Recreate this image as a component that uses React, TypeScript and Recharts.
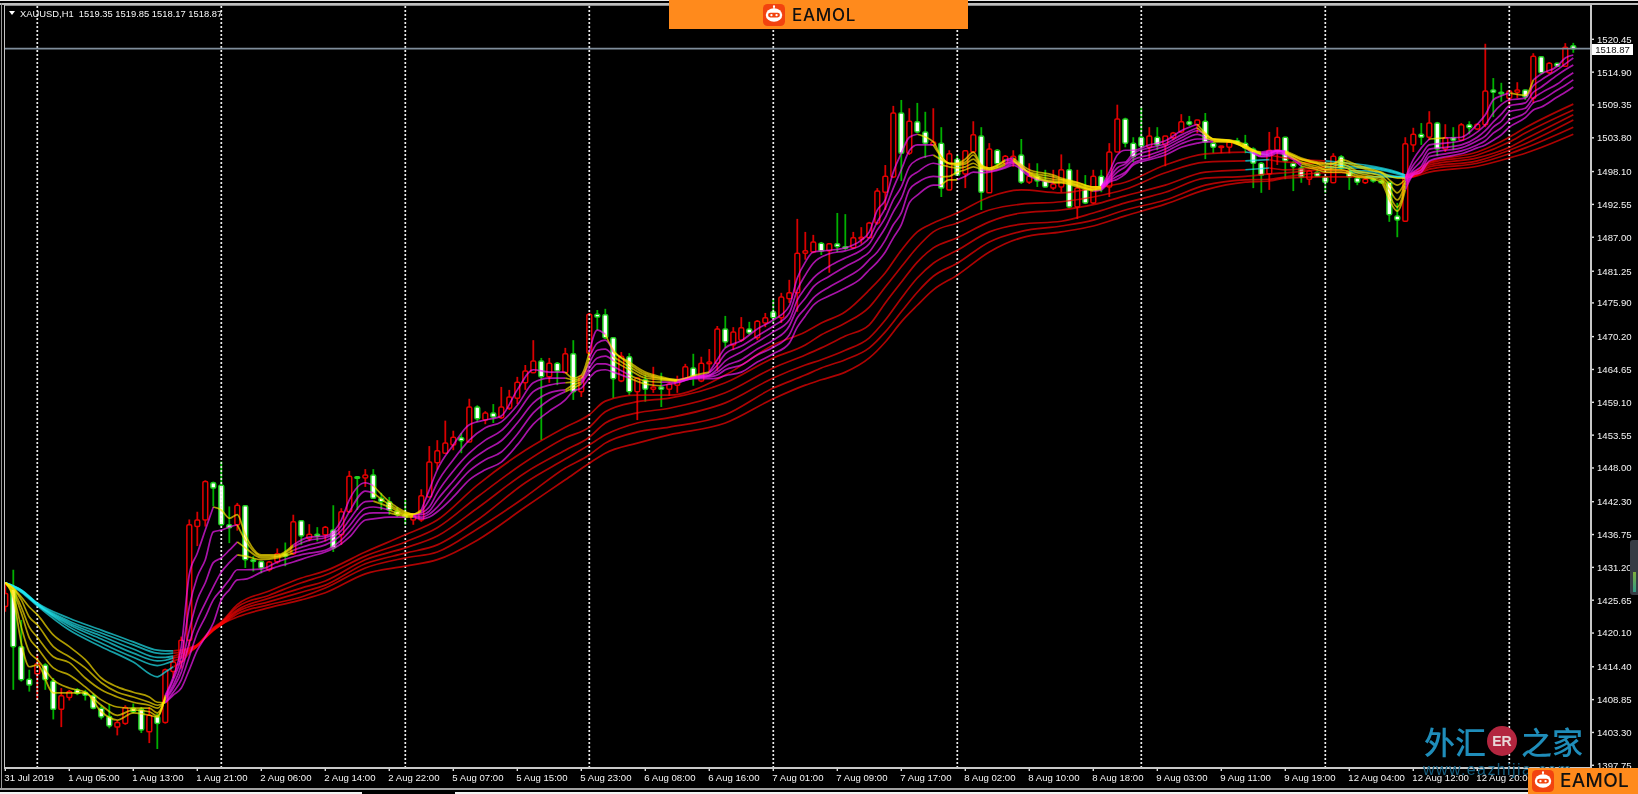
import React from "react";
import { ComposedChart, Bar, Line, XAxis, YAxis, ReferenceLine } from "recharts";

const symbolTitle = "XAUUSD,H1  1519.35 1519.85 1518.17 1518.87";
const lastPrice = 1518.87;
const priceTicks = [1520.45,1514.9,1509.35,1503.8,1498.1,1492.55,1487,1481.25,1475.9,1470.2,1464.65,1459.1,1453.55,1448,1442.3,1436.75,1431.2,1425.65,1420.1,1414.4,1408.85,1403.3,1397.75];
const timeLabels = ["31 Jul 2019","1 Aug 05:00","1 Aug 13:00","1 Aug 21:00","2 Aug 06:00","2 Aug 14:00","2 Aug 22:00","5 Aug 07:00","5 Aug 15:00","5 Aug 23:00","6 Aug 08:00","6 Aug 16:00","7 Aug 01:00","7 Aug 09:00","7 Aug 17:00","8 Aug 02:00","8 Aug 10:00","8 Aug 18:00","9 Aug 03:00","9 Aug 11:00","9 Aug 19:00","12 Aug 04:00","12 Aug 12:00","12 Aug 20:00"];
const timeTickBars = [0,8,16,24,32,40,48,56,64,72,80,88,96,104,112,120,128,136,144,152,160,168,176,184];
const daySeparatorBars = [4,27,50,73,96,119,142,165,188];

const opens = [1424.6,1427.5,1417.8,1412.3,1413.2,1414.7,1412,1407.2,1409.2,1410.5,
1410.1,1409.5,1407.4,1406,1404.2,1404.8,1407.4,1407.2,1403.4,1406,
1405,1413.6,1415.3,1418.9,1438.1,1439.2,1445.5,1445.1,1438.4,1438.4,
1441.6,1432.5,1432.2,1430.8,1432.1,1433.5,1433.5,1439.1,1436.1,1436.8,
1436.7,1437.5,1436.7,1440.6,1446.5,1446.3,1446.8,1442.9,1442.3,1440.7,
1440.1,1439.2,1439.2,1443.1,1448.9,1450.5,1451.9,1453.1,1452.4,1458.3,
1456.1,1457.3,1456.5,1458.1,1459.8,1462.4,1464.1,1466.1,1463.4,1465.7,
1464.1,1467.3,1460.9,1467.4,1474,1473.9,1470,1462.7,1466.8,1460.9,
1462.9,1461.3,1461.7,1461.3,1462,1463.1,1464.9,1462.7,1465.6,1465.7,
1471.5,1468.8,1469.6,1471.5,1470,1472.5,1474.4,1473.4,1476.6,1477.6,
1484.3,1484.5,1486,1484.7,1485.9,1485.4,1485.2,1486.7,1486.9,1489.4,
1494.6,1497.2,1508,1501.2,1506.5,1504.8,1502.6,1502.9,1495,1500.2,
1497.7,1501.4,1504.1,1494.5,1501.7,1499.5,1500.1,1500.9,1496.3,1497.3,
1496.5,1495.3,1495.5,1498.4,1492.1,1495.1,1492.8,1497.3,1495.5,1501.4,
1507,1502.9,1503.9,1502.2,1503.9,1502.6,1503.8,1504.8,1506.5,1506,
1506.6,1502.9,1502.2,1502.2,1503.3,1502.9,1501.9,1499.5,1497.7,1501.7,
1503.9,1499.5,1498.7,1496.8,1498,1497.2,1496.2,1500.6,1498.2,1497,
1496.2,1496.8,1496.5,1496.3,1490.6,1489.7,1502.6,1504.4,1503.9,1506.3,
1501.9,1503.8,1503.4,1506,1505.3,1506,1511.9,1511.5,1510.5,1511.5,
1511.9,1510.5,1517.5,1514.8,1516.4,1515.9,1519.35];
const highs = [1428.5,1430.8,1422.3,1413.9,1416.6,1415,1412.5,1410.8,1410.5,1410.8,
1410.5,1409.9,1407.9,1408.1,1405.4,1407.9,1408.2,1407.6,1407.6,1406.5,
1414.1,1416.1,1419.5,1439.3,1440.6,1445.9,1445.7,1449.1,1441.5,1442.1,
1441.7,1433.1,1432.3,1432.3,1434.4,1435.4,1440.1,1439.2,1438.5,1438,
1438.2,1441.7,1441.2,1447.5,1446.6,1447.8,1447.8,1443.8,1443.1,1441.4,
1442.6,1440.1,1444.4,1451.7,1452.7,1456,1454.3,1453.9,1459.7,1458.6,
1457.6,1458.8,1461.7,1461.2,1463.4,1465.4,1469.6,1466.6,1466.6,1465.9,
1468.3,1469.6,1463.7,1474.2,1474.7,1474.9,1470.1,1467.6,1467.4,1463.2,
1463.7,1465.1,1464.1,1462.5,1463.6,1465.6,1467.3,1466.8,1468.1,1472,
1473.7,1471.8,1473.5,1472.7,1473,1474.2,1476.6,1477.6,1479.8,1490.1,
1487.9,1487.4,1486.2,1485.9,1491.1,1490.9,1487.9,1488.7,1489.6,1495.3,
1499.2,1509.2,1510.2,1508.8,1509.7,1508.2,1508.8,1505.6,1501.7,1500.9,
1501.7,1506.6,1505.6,1502.9,1501.9,1500.9,1501.7,1503.6,1499.5,1499.5,
1498.4,1498.4,1501,1499.5,1498.4,1497.5,1498.4,1498.4,1502.9,1509.4,
1507.2,1503.9,1509,1505.6,1505.6,1504.1,1504.8,1507.8,1507.5,1506.8,
1508,1503.1,1502.4,1503.1,1503.8,1504.3,1502.2,1499.7,1504.8,1505.6,
1503.9,1499.9,1499.2,1498.4,1498.5,1497.2,1501.2,1500.9,1498.7,1497.2,
1497,1497,1496.7,1496.3,1492.8,1503.9,1505.5,1506.3,1508.3,1506.5,
1506.1,1505.6,1506.3,1506.6,1506.1,1519.7,1513.9,1513.1,1511.9,1513.2,
1511.9,1518.1,1517.6,1516.6,1516.4,1519.8,1519.85];
const lows = [1423.7,1410.5,1411.9,1410.2,1408.8,1410.5,1405.5,1404.2,1408.7,1409.6,
1408.7,1407.2,1405.5,1404,1402.8,1404.6,1406.5,1403.2,1401.5,1400.5,
1404.8,1412.5,1414.1,1417.8,1434.8,1438.1,1441.5,1438.1,1435.3,1437.4,
1431.1,1430.5,1430.2,1430.5,1431.8,1431.4,1433.3,1435,1435.6,1435.6,
1435.6,1433.8,1435,1440.4,1440.9,1444.8,1442.9,1440.9,1440.1,1439.7,
1438.4,1438.4,1438.9,1443.1,1447.7,1450.5,1451,1450.5,1452.4,1455.8,
1455.4,1455.6,1456.3,1457.8,1458.8,1461.2,1464.1,1452.7,1462.4,1462,
1464.1,1459.5,1460,1466.3,1471.3,1469.8,1459.8,1462.5,1460.3,1456.1,
1459.2,1460.7,1458.3,1460.2,1460.7,1462.9,1461.9,1462.5,1464.2,1464.4,
1468.3,1467.9,1469.3,1470.5,1469.6,1471.8,1472.7,1472.5,1475.9,1474.4,
1483.2,1484.3,1484,1481,1484.5,1484.8,1485,1485.9,1486.9,1489.1,
1491.6,1497,1496.5,1500.9,1504.6,1500.4,1502.6,1493.8,1495,1497.5,
1495.3,1501.2,1491.6,1494.5,1498.7,1499.2,1498.9,1496,1496,1495.5,
1495.5,1495,1494.6,1491.9,1490.1,1492.6,1492.6,1494.6,1493.8,1501.4,
1502.2,1499.7,1501.2,1500.4,1501.7,1499,1503.4,1504.6,1505.8,1504.6,
1500.2,1501.2,1501.2,1501.2,1502.6,1501.2,1495.3,1494.5,1495,1499.2,
1496.8,1494.8,1496.2,1495.8,1497.2,1494.5,1496.2,1498.4,1495,1495.8,
1496,1496.2,1496,1489.6,1487,1489.7,1501.4,1502.6,1503.4,1500.7,
1501.4,1501.7,1503.4,1504.4,1505.1,1505.6,1507.3,1509.9,1509.4,1510.5,
1510.2,1509.7,1514.6,1514.6,1515.8,1515.8,1518.17];
const closes = [1426.8,1417.8,1412.2,1411.3,1414.9,1412.2,1407.2,1409.5,1410.2,1409.9,
1409.6,1407.4,1405.9,1404.4,1405,1407.5,1406.8,1403.7,1406.2,1404.8,
1413.9,1415.2,1418.9,1438.4,1439.2,1445.7,1444.6,1438.4,1437.9,1441.7,
1432.5,1432.2,1431.1,1432.1,1433.5,1433.1,1438.9,1436.5,1436.8,1436.5,
1438,1434.5,1440.6,1446.6,1446.3,1446.8,1442.9,1442.3,1440.9,1440.1,
1439.7,1439.9,1443.3,1449,1450.9,1452.2,1453.2,1452.6,1458.3,1456.3,
1457.3,1456.6,1458.3,1460,1462.5,1464.4,1466.1,1463.4,1465.7,1464.4,
1467.3,1460.9,1463.4,1474,1473.5,1470,1463.1,1466.9,1460.9,1463.2,
1461.3,1461.7,1461.3,1462.2,1462.9,1465.1,1463.4,1465.7,1465.9,1471.5,
1469.3,1471,1471.7,1470.8,1472.8,1473.4,1473.4,1476.9,1477.6,1484.3,
1484.7,1486.2,1484.7,1485.9,1485.4,1485.2,1486.9,1487,1489.4,1494.8,
1497.3,1508,1501.2,1506.6,1504.8,1502.9,1503.1,1495.3,1501.1,1497.5,
1501.6,1504.3,1494.6,1501.9,1499.4,1500.7,1500.7,1496.3,1497.3,1496.5,
1495.5,1496,1498.4,1492.1,1495.3,1492.8,1497.3,1495.5,1501.4,1507,
1502.9,1500.6,1502.4,1504.1,1502.6,1504.1,1504.6,1506.5,1506.1,1506.8,
1503.1,1502.2,1502.4,1503.1,1502.9,1502.1,1499.5,1497.5,1501.7,1503.9,
1499.9,1498.9,1497.2,1498.2,1497.3,1496.3,1500.7,1498.7,1497.2,1496.3,
1496.8,1496.5,1496.2,1490.8,1489.9,1502.8,1504.4,1503.9,1506.3,1501.9,
1503.8,1503.4,1506,1505.5,1506.1,1511.7,1511.5,1511.4,1511.7,1511.9,
1510.7,1517.6,1514.8,1516.4,1515.9,1519.1,1518.87];

const fastBars = [0,1,2,3,4,6,8,10,12,14,16,18,19,20,21,22,23,24,25,26,27,28,29,30,32,34,36,38,40,42,43,45,46,48,50,51,52,53,54,56,58,60,62,64,66,68,70,71,72,73,74,75,76,78,80,82,84,86,88,89,90,92,94,96,98,99,100,101,103,105,107,108,109,110,111,112,113,114,116,117,118,119,120,121,122,123,125,126,128,131,132,134,136,137,138,139,140,141,143,145,147,149,150,151,153,155,156,157,158,159,160,162,164,165,166,167,169,171,172,173,174,175,176,177,178,180,182,184,185,186,187,188,190,191,192,194,195,196];
const fast1 = [1428.6,1426,1418.4,1414.4,1414.7,1410,1410,1410,1406.8,1405.4,1406.6,1406.2,1405.9,1409.6,1412.7,1417.8,1430,1433.6,1437.5,1441.4,1440.9,1439.5,1440.1,1436.7,1433.3,1433.3,1435,1436.3,1436.5,1439.2,1442.6,1445.5,1445,1442.3,1440.6,1440.2,1440.9,1444.3,1447.7,1451.9,1455.3,1456.1,1456.8,1461.2,1464.6,1464.2,1464.2,1463.2,1463.7,1467.6,1471.3,1470.6,1467.9,1465.9,1464.2,1463.4,1462.9,1463.6,1464.2,1466.3,1468.3,1469.5,1471.5,1473,1475.4,1480.1,1482.8,1484.5,1484.8,1485.2,1486.5,1487.9,1491.6,1493.3,1498,1501.2,1503.9,1504.4,1503.1,1500.6,1499.5,1499.5,1500.2,1501.4,1499.2,1498.7,1500.1,1500.4,1498.4,1497.5,1497,1496.3,1495.5,1495.5,1498,1500.9,1501.7,1501.7,1502.6,1503.3,1505,1506.1,1504.6,1503.6,1503.4,1502.6,1501.7,1501.4,1501.6,1501.7,1501.6,1500.4,1499.7,1499.5,1499.5,1500.1,1499.2,1498.4,1498,1497.3,1497,1497,1500.1,1502.1,1503.6,1503.8,1503.9,1506.1,1507.7,1510.2,1510.9,1511.4,1511,1513.6,1514.6,1515.9,1517.3,1517.8];
const fast2 = [1428.6,1426.5,1421.1,1416.9,1415.6,1412.2,1410.8,1410.1,1407.9,1406.2,1407.1,1406.8,1406.1,1409.3,1412.2,1416.1,1424.5,1429.6,1432.5,1437.2,1437.5,1438,1438.4,1435.8,1433.1,1433.1,1434.7,1435.8,1436.2,1438.2,1440.6,1444.1,1443.8,1441.8,1440.4,1440.2,1440.6,1442.6,1445.5,1449.4,1452.7,1454.8,1455.8,1458.6,1462.4,1463.2,1463.2,1462.9,1463.2,1466.6,1469.1,1469.6,1467.6,1465.6,1463.9,1463.2,1462.9,1463.4,1464.1,1465.4,1467.3,1468.6,1470.3,1472,1474.2,1478.1,1480.6,1482.6,1484.2,1484.7,1485.7,1486.9,1489.6,1491.9,1495.3,1498.4,1501.6,1502.6,1502.6,1500.6,1499.5,1499.4,1499.7,1500.9,1499,1498.7,1499.9,1500.1,1498,1497.2,1496.8,1496.2,1495.5,1495.5,1497.3,1499.5,1499.7,1501.2,1502.1,1502.8,1504.3,1505.5,1504.4,1503.6,1503.4,1502.4,1501.7,1501.2,1501.4,1501.6,1501.4,1500.2,1499.5,1499.2,1499.4,1499.7,1498.9,1498.2,1497.9,1496.7,1495.8,1496.8,1499.2,1500.9,1502.6,1502.9,1503.3,1504.8,1506,1508,1509.4,1510.2,1510.5,1512.6,1513.6,1515.3,1516.3,1517.3];
const fast3 = [1428.6,1427,1423.5,1419.3,1417.6,1414.2,1413,1411,1408.8,1407.6,1407.4,1407.4,1406.6,1409.1,1411.3,1414.7,1420.6,1425.7,1428.6,1432,1432.8,1434.1,1435.5,1434.5,1432.8,1433,1434.1,1435,1435.7,1437.4,1439.2,1442.3,1442.4,1441.4,1440.2,1440.1,1440.4,1441.4,1443.8,1447.5,1450.5,1452.7,1454.3,1457.3,1460.9,1462,1462.4,1462.5,1462.9,1465.7,1467.9,1468.1,1466.8,1465.1,1463.6,1463.1,1462.7,1463.4,1463.7,1464.7,1466.1,1467.6,1469.3,1471,1473,1476.4,1478.4,1480.1,1482.1,1483.5,1484.8,1485.9,1488.2,1490.3,1493.3,1495.5,1498.9,1500.1,1500.9,1500.1,1499.4,1499.2,1499.4,1500.2,1498.9,1498.5,1499.5,1499.9,1497.9,1496.8,1496.7,1496,1495.3,1495.3,1497,1498.7,1499.4,1500.6,1501.6,1502.4,1503.8,1505,1504.3,1503.6,1503.3,1502.2,1501.6,1501.1,1501.2,1501.6,1501.4,1500.1,1499.4,1498.9,1499,1499.4,1498.2,1497.7,1497.3,1496,1494.5,1496.5,1498.5,1499.9,1501.9,1502.2,1502.6,1503.9,1505,1506.5,1507.8,1509.2,1509.7,1511.5,1512.4,1514.4,1515.3,1516.1];
const fast4 = [1428.6,1427.4,1424.5,1421.1,1419.4,1416.1,1415.1,1412.5,1410.5,1409.3,1408.4,1407.9,1407.4,1408.8,1410.8,1413.5,1418.4,1422.3,1425.2,1427.9,1430.4,1432,1433.3,1433.1,1432.5,1432.8,1433.6,1434.3,1435,1436.7,1438.2,1441.2,1441.4,1440.9,1440.1,1440.1,1440.1,1440.7,1442.6,1445.8,1449,1451,1452.6,1455.6,1459,1460.7,1461.2,1462,1462.5,1464.9,1466.6,1466.9,1466.1,1464.6,1463.2,1462.9,1462.7,1463.2,1463.6,1464.2,1465.2,1466.3,1468.1,1469.6,1472,1475,1476.7,1478.6,1480.4,1482,1483.5,1484.5,1486.5,1488.6,1491.3,1493.6,1497,1498,1499.5,1499.2,1498.9,1498.7,1498.9,1499.5,1498.7,1498.4,1499.2,1499.7,1497.7,1496.5,1496.5,1495.8,1495.1,1495.3,1496.7,1498,1498.9,1500.1,1500.9,1501.9,1503.3,1504.4,1503.9,1503.4,1503.3,1502.2,1501.6,1500.9,1501.1,1501.6,1501.2,1499.7,1499,1498.5,1498.7,1498.9,1497.9,1497.3,1497,1495.1,1493.3,1496.2,1498,1499,1501.2,1501.7,1502.1,1503.3,1504.1,1505.6,1506.6,1508.2,1508.8,1510.5,1511.4,1512.9,1513.9,1514.8];
const fast5 = [1428.6,1427.6,1425.7,1422.8,1421.5,1417.8,1416.1,1414.2,1411.7,1410.1,1409.3,1408.4,1407.9,1408.4,1410.1,1412.2,1416.1,1420.1,1422.8,1425.7,1427.4,1429.1,1430.8,1430.8,1430.9,1432.1,1433,1433.6,1434.1,1435.8,1437.2,1440.2,1440.4,1440.4,1439.9,1439.9,1439.7,1440.2,1441.4,1444.5,1447.5,1449.4,1450.7,1453.7,1457.3,1459.5,1460.9,1461.5,1462.2,1464.2,1465.6,1465.6,1465.1,1463.7,1462.7,1462.5,1462.5,1463.2,1463.4,1463.7,1464.6,1465.4,1467.1,1468.4,1470.5,1473.4,1475,1476.7,1478.6,1480.1,1481.8,1483.2,1484.5,1486.5,1489.1,1491.1,1495,1496.2,1497.3,1497.2,1497.3,1498,1498.4,1498.9,1498.4,1498.2,1498.9,1499.5,1497.5,1496.3,1496.3,1495.7,1495,1495.1,1496.5,1497.3,1498,1499.5,1500.4,1501.4,1502.8,1503.6,1503.6,1503.3,1503.1,1502.1,1501.4,1500.7,1500.9,1501.4,1501.1,1499.4,1498.7,1498.4,1498.4,1498.4,1497.5,1497,1496.7,1494.1,1492.1,1495.7,1497.7,1498.4,1500.6,1501.1,1501.6,1502.6,1503.3,1504.6,1505.5,1506.8,1508,1509.7,1510.2,1511.9,1512.7,1513.6];
const fast6 = [1428.6,1427.7,1426.2,1424.5,1423.2,1419.8,1417.8,1415.6,1412.5,1411,1410.1,1409.3,1408.4,1408.3,1409.6,1410.8,1413.9,1417.2,1419.4,1421.8,1425.7,1427.4,1429.1,1429.2,1430.4,1431.3,1432.1,1433,1433.8,1435.2,1436.3,1439.2,1439.4,1439.7,1439.7,1439.7,1439.4,1439.7,1440.6,1443.1,1446,1447.7,1449,1451.9,1455.4,1457.6,1459.5,1461,1461.5,1463.2,1464.4,1464.6,1464.2,1463.2,1462.2,1461.9,1462.4,1463.1,1463.1,1463.2,1463.6,1464.2,1465.9,1467.3,1469.1,1471.8,1473.7,1475.5,1477.1,1478.4,1480.1,1481.5,1482.8,1484.5,1486.9,1489.1,1492.8,1494.1,1495.8,1495.8,1496.7,1496.7,1497.3,1498,1497.9,1498,1498.7,1499.2,1497.3,1496.2,1496.2,1495.5,1494.8,1495,1496.3,1496.8,1497.7,1499.2,1500.1,1500.9,1502.2,1502.9,1503.1,1503.1,1503.1,1502.1,1501.2,1500.6,1500.7,1501.2,1500.9,1499,1498.4,1498,1498,1498,1497.2,1496.8,1496.3,1493.3,1491.4,1495,1497.5,1498,1499.9,1500.6,1501.1,1502.1,1502.6,1503.4,1504.3,1505.6,1507.2,1508.5,1509,1510.7,1511.5,1512.4];

const slowBars = [0,2,4,8,12,16,19,20,21,22,23,24,25,26,27,29,33,37,40,45,50,54,59,65,70,73,75,79,83,90,96,100,102,105,108,110,112,114,116,119,123,127,132,136,140,145,150,155,158,160,165,168,170,174,175,176,178,184,188,190,196];
const slow1 = [1428.6,1427,1424.7,1420.6,1417.8,1415.2,1412.7,1413.5,1414.4,1415.2,1416.7,1417.9,1419.6,1421,1422,1424.9,1427.2,1429.4,1430.6,1433.8,1436.7,1439.2,1445.1,1451,1454.9,1457,1459.3,1460.3,1460.3,1463.7,1468.8,1471,1472.5,1474.4,1478.1,1481,1484.8,1487.9,1489.4,1491.1,1493.8,1495,1494.5,1495.3,1496.3,1499.2,1501.1,1501.4,1500.9,1500.4,1499.9,1499.5,1499.2,1498,1497.5,1497.9,1499.7,1501.4,1503.9,1505.5,1509.5];
const slow2 = [1428.6,1427.1,1424.9,1421.1,1418.4,1416,1414.6,1414.9,1415.4,1415.9,1416.9,1417.9,1419.4,1420.8,1421.8,1424.5,1426.5,1428.6,1429.9,1433.1,1435.5,1437.9,1443.1,1449,1453.1,1454.9,1457.5,1459.2,1459.8,1462.4,1466.6,1468.8,1470.5,1472.5,1475.2,1478.6,1482,1485.3,1487.9,1489.4,1491.6,1492.6,1493,1493.8,1495.1,1497.9,1499.7,1499.9,1500.1,1499.7,1499.5,1499,1498.9,1497.9,1497.5,1497.7,1499.5,1500.9,1503.1,1504.6,1508.5];
const slow3 = [1428.6,1427.2,1424.9,1421.5,1419.1,1416.7,1415.4,1415.5,1415.9,1416.2,1417.1,1417.9,1419.4,1420.8,1421.8,1424,1426,1427.7,1428.9,1432.5,1434.5,1436.5,1441.2,1447.2,1451,1453.2,1455.6,1457.3,1458.1,1460.7,1464.9,1467.1,1468.3,1470.3,1472.2,1475.9,1479.4,1482.8,1485.2,1486.9,1489.6,1491.1,1491.6,1492.5,1494,1495.8,1498,1498.4,1498.7,1498.4,1498.9,1498.7,1498.7,1497.7,1497.3,1497.5,1499.2,1500.4,1502.2,1503.6,1507.7];
const slow4 = [1428.6,1427.3,1425,1421.8,1419.6,1417.4,1416,1416,1416.2,1416.6,1417.2,1418.1,1419.4,1420.6,1421.6,1423.7,1425.4,1427,1428.2,1431.8,1433.6,1435,1439.2,1445.5,1449.5,1451.9,1453.6,1455.6,1456.5,1459,1463.2,1465.4,1466.3,1467.9,1470,1473,1476.7,1480.1,1482.6,1484.8,1487.9,1489.2,1489.7,1491.1,1492.8,1494.6,1497,1497.3,1497.7,1497.9,1498.4,1498.2,1498.2,1497.3,1497.2,1497.3,1498.9,1499.9,1501.7,1502.8,1506.8];
const slow5 = [1428.6,1427.4,1425.1,1422.1,1420.1,1418.1,1416.7,1416.6,1416.7,1416.9,1417.4,1418.1,1419.3,1420.6,1421.5,1423.3,1424.9,1426.2,1427.7,1431.1,1432.8,1433.8,1437.7,1443.1,1448,1450.2,1452.2,1454.1,1454.9,1457,1461.5,1463.7,1464.9,1466.3,1468.3,1471,1474.4,1477.7,1480.4,1482.6,1486.2,1488,1488.9,1489.9,1491.6,1493.3,1495.8,1496.7,1496.8,1497.2,1497.9,1497.9,1497.9,1497.2,1497.2,1497.3,1498.5,1499.5,1501.1,1502.1,1505.6];
const slow6 = [1428.6,1427.4,1425.2,1422.6,1420.6,1418.6,1417.2,1417.1,1417.1,1417.2,1417.6,1418.1,1419.3,1420.5,1421.5,1422.8,1424.4,1425.7,1426.9,1430.1,1431.4,1432.5,1435.8,1441.4,1446,1448.8,1450.5,1452.2,1453.6,1455.6,1459.7,1462,1462.9,1464.2,1466.6,1469.3,1472.7,1475.5,1478.1,1480.6,1484.5,1486.9,1487.9,1488.9,1490.6,1492.6,1495,1496.3,1496.5,1497,1497.2,1497.2,1497.2,1497.2,1497,1497.2,1498,1499,1500.4,1501.2,1504.4];

// Bars where each line is in its "falling" colour (gold for fast lines, cyan for slow lines).
const fastFalling = [
  [[0,20],[26,35],[46,52],[70,73],[75,88],[115,125],[127,137],[149,157],[160,175],[178,180],[188,191]],
  [[0,20],[29,35],[46,52],[70,73],[76,84],[116,125],[127,137],[149,157],[160,175]],
  [[0,20],[29,35],[47,51],[70,72],[76,84],[116,124],[127,137],[150,157],[160,175]],
  [[0,20],[29,35],[48,51],[70,72],[76,83],[117,124],[128,137],[150,157],[161,175]],
  [[0,20],[49,51],[70,72],[78,82],[117,122],[129,137],[151,156],[162,175]],
  [[0,20],[50,51],[79,82],[117,119],[130,136],[152,155],[163,175]],
];
const slowFalling = [
  [[0,21],[155,158],[165,175]],
  [[0,21],[155,158],[165,175]],
  [[0,21],[155,158],[165,175]],
  [[0,21],[168,175]],
  [[0,21],[168,175]],
  [[0,21],[170,175]],
];

const GOLD = "#ffe400";
const MAGENTA = "#f81cf8";
const CYAN = "#20eaf4";
const RED = "#ff0404";

const candles = opens.map((open, i) => ({ x: i, open, high: highs[i], low: lows[i], close: closes[i] }));

function splitRuns(bars, values, falling, fallColor, riseColor) {
  const runs = [];
  let current = null;
  for (let k = 0; k < bars.length - 1; k++) {
    const mid = (bars[k] + bars[k + 1]) / 2;
    const color = falling.some(([a, b]) => mid >= a && mid <= b) ? fallColor : riseColor;
    if (!current || current.color !== color) {
      current = { color, pts: [{ x: bars[k], y: values[k] }] };
      runs.push(current);
    }
    current.pts.push({ x: bars[k + 1], y: values[k + 1] });
  }
  return runs;
}

const lineRuns = [
  ...[slow6, slow5, slow4, slow3, slow2, slow1].flatMap((v, n) => splitRuns(slowBars, v, slowFalling[5 - n], CYAN, RED)),
  ...[fast6, fast5, fast4, fast3, fast2, fast1].flatMap((v, n) => splitRuns(fastBars, v, fastFalling[5 - n], GOLD, MAGENTA)),
];

function Candle(props) {
  const { x, y, width, height, payload } = props;
  if (!payload) return null;
  const top = Math.min(y, y + height);
  const h = Math.abs(height);
  const range = payload.high - payload.low || 1;
  const at = (p) => top + ((payload.high - p) / range) * h;
  const cx = x + width / 2;
  const rising = payload.close >= payload.open;
  const bodyTop = at(Math.max(payload.open, payload.close));
  const bodyBot = at(Math.min(payload.open, payload.close));
  const bh = Math.max(bodyBot - bodyTop, 1.5);
  return (
    <g>
      <line x1={cx} x2={cx} y1={top} y2={top + h} stroke={rising ? "#d80000" : "#00b000"} strokeWidth={1.8} />
      <rect
        x={cx - 2.4}
        y={bodyTop}
        width={4.8}
        height={bh}
        rx={1.2}
        fill={rising ? "#000" : "#fff"}
        stroke={rising ? "#e60000" : "#20d020"}
        strokeWidth={1.5}
      />
    </g>
  );
}

const axisFont = "'Liberation Sans', Arial, sans-serif";

function TimeTick(props) {
  const { x, y, payload } = props;
  const k = timeTickBars.indexOf(payload.value);
  const base = y - 8;
  return (
    <g>
      <line x1={x} x2={x} y1={base} y2={base + 3} stroke="#e0e0e0" strokeWidth={1.4} />
      <text x={x - 1} y={base + 12.6} fill="#f4f4f4" fontSize={9.6} fontFamily={axisFont}>
        {timeLabels[k]}
      </text>
    </g>
  );
}

function PriceTick(props) {
  const { x, y, payload } = props;
  const base = x - 8;
  return (
    <g>
      <line x1={base} x2={base + 3} y1={y} y2={y} stroke="#e0e0e0" strokeWidth={1.4} />
      <text x={base + 6} y={y + 3.4} fill="#f4f4f4" fontSize={9.6} fontFamily={axisFont}>
        {payload.value.toFixed(2)}
      </text>
    </g>
  );
}

function Robot({ x, y, size }) {
  return (
    <svg style={{ position: "absolute", left: x, top: y }} width={size} height={size} viewBox="0 0 24 24">
      <rect x="0" y="0" width="24" height="24" rx="5" fill="#f2430f" />
      <rect x="11.2" y="2" width="1.6" height="3" fill="#fff" />
      <circle cx="12" cy="2.6" r="1.2" fill="#fff" />
      <ellipse cx="12" cy="12" rx="9" ry="7.4" fill="#fff" />
      <rect x="5.5" y="9.6" width="13" height="5" rx="2.5" fill="#f2430f" />
      <circle cx="9.2" cy="12.1" r="1.3" fill="#fff" />
      <circle cx="14.8" cy="12.1" r="1.3" fill="#fff" />
    </svg>
  );
}

function Abs({ l, t, w, h, c }) {
  return <div style={{ position: "absolute", left: l, top: t, width: w, height: h, background: c }} />;
}

export default function App() {
  return (
    <div style={{ position: "absolute", left: 0, top: 0, width: 1638, height: 794, background: "#000", overflow: "hidden", filter: "blur(0.4px)" }}>
      <ComposedChart
        width={1638}
        height={794}
        data={candles}
        margin={{ top: 5, right: 0, bottom: 0, left: 5 }}
        style={{ position: "absolute", left: 0, top: 0 }}
      >
        <XAxis
          dataKey="x"
          type="number"
          domain={[-0.0375, 198.2125]}
          allowDataOverflow
          ticks={timeTickBars}
          interval={0}
          height={26}
          axisLine={false}
          tickLine={false}
          tick={<TimeTick />}
        />
        <YAxis
          orientation="right"
          type="number"
          domain={[1397.29, 1526.25]}
          allowDataOverflow
          ticks={priceTicks}
          interval={0}
          width={47}
          axisLine={false}
          tickLine={false}
          tick={<PriceTick />}
        />
        {daySeparatorBars.map((b) => (
          <ReferenceLine key={b} x={b} stroke="#ececec" strokeWidth={1.7} strokeDasharray="2 2" />
        ))}
        <ReferenceLine y={lastPrice} stroke="#7f8d9b" strokeWidth={1.6} />
        <Bar dataKey={(r) => [r.low, r.high]} barSize={6} shape={<Candle />} isAnimationActive={false} />
        {lineRuns.map((run, n) => (
          <Line
            key={n}
            data={run.pts}
            dataKey="y"
            type="monotoneX"
            stroke={run.color}
            strokeOpacity={0.68}
            strokeWidth={1.7}
            dot={false}
            activeDot={false}
            isAnimationActive={false}
          />
        ))}
      </ComposedChart>

      {/* window frame */}
      <Abs l={0} t={0} w={1638} h={1} c="#e8e8e8" />
      <Abs l={0} t={3} w={669} h={1.5} c="#bdbdbd" />
      <Abs l={968} t={3} w={670} h={1.5} c="#bdbdbd" />
      <Abs l={1} t={3} w={1} h={785} c="#9a9a9a" />
      <Abs l={4} t={5} w={1.4} h={763} c="#c4c4c4" />
      <Abs l={5} t={5} w={1586} h={1} c="#8a8a8a" />
      <Abs l={1590} t={5} w={1.8} h={763} c="#c8c8c8" />
      <Abs l={4} t={767} w={1587} h={1.6} c="#c8c8c8" />
      <Abs l={0} t={788} w={1638} h={1.6} c="#a0a0a0" />
      <Abs l={0} t={792} w={362} h={2} c="#f2f2f2" />
      <Abs l={455} t={792} w={1100} h={2} c="#f2f2f2" />

      {/* title */}
      <svg style={{ position: "absolute", left: 9, top: 11 }} width={7} height={5}>
        <polygon points="0,0 6,0 3,4" fill="#fff" />
      </svg>
      <div style={{ position: "absolute", left: 20, top: 7, color: "#f8f8f8", font: `9.4px ${axisFont}`, whiteSpace: "pre", lineHeight: "13px" }}>
        {symbolTitle}
      </div>

      {/* last price box */}
      <div style={{ position: "absolute", left: 1592, top: 44, width: 41, height: 11, background: "#fff", color: "#111", font: `9.6px ${axisFont}`, lineHeight: "11px", textAlign: "center" }}>
        {lastPrice.toFixed(2)}
      </div>

      {/* scrollbar handle */}
      <div style={{ position: "absolute", left: 1630, top: 540, width: 8, height: 55, background: "#363c44", borderRadius: "3px 0 0 3px" }} />
      <div style={{ position: "absolute", left: 1633, top: 572, width: 3, height: 20, background: "linear-gradient(#7fae3c,#2f9a86)" }} />

      {/* top banner */}
      <div style={{ position: "absolute", left: 669, top: 0, width: 299, height: 29, background: "#ff8a1c" }} />
      <Robot x={763} y={4} size={22} />
      <div style={{ position: "absolute", left: 792, top: 4, color: "#101010", font: `500 17px Inter, sans-serif`, letterSpacing: 0.7, lineHeight: "22px" }}>EAMOL</div>

      {/* watermark */}
      <div style={{ position: "absolute", left: 1424, top: 721, color: "#1f8dba", font: `500 31px 'Noto Sans CJK SC', sans-serif`, lineHeight: "40px", whiteSpace: "pre" }}>外汇</div>
      <div style={{ position: "absolute", left: 1521, top: 721, color: "#1f8dba", font: `500 31px 'Noto Sans CJK SC', sans-serif`, lineHeight: "40px", whiteSpace: "pre" }}>之家</div>
      <div style={{ position: "absolute", left: 1487, top: 726, width: 30, height: 30, borderRadius: 15, background: "#b3263f", color: "#e8d8d8", font: `bold 14px ${axisFont}`, lineHeight: "30px", textAlign: "center" }}>ER</div>
      <div style={{ position: "absolute", left: 1423, top: 760, color: "#155f80", font: `16px ${axisFont}`, letterSpacing: 1.4, lineHeight: "20px", whiteSpace: "pre" }}>www.eazhijia.com</div>

      {/* corner logo */}
      <div style={{ position: "absolute", left: 1528, top: 768, width: 110, height: 26, background: "#ff8a1c" }} />
      <Robot x={1532} y={770} size={22} />
      <div style={{ position: "absolute", left: 1560, top: 769, color: "#101010", font: `500 19px Inter, sans-serif`, letterSpacing: 0.3, lineHeight: "24px" }}>EAMOL</div>
    </div>
  );
}
